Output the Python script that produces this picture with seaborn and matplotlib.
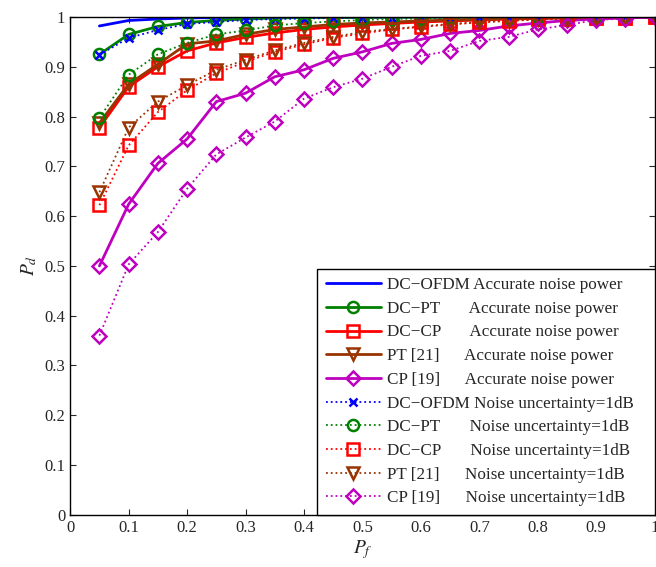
import numpy as np
import pandas as pd
import matplotlib
matplotlib.use("Agg")
import matplotlib.pyplot as plt
import seaborn as sns

pf = [0.05, 0.10, 0.15, 0.20, 0.25, 0.30, 0.35, 0.40, 0.45, 0.50,
      0.55, 0.60, 0.65, 0.70, 0.75, 0.80, 0.85, 0.90, 0.95, 1.00]

dcofdm_acc = [0.982, 0.993, 0.996, 0.998, 0.999, 0.999, 1.0, 1.0, 1.0, 1.0,
              1.0, 1.0, 1.0, 1.0, 1.0, 1.0, 1.0, 1.0, 1.0, 1.0]
dcpt_acc = [0.925, 0.965, 0.981, 0.989, 0.993, 0.996, 0.998, 0.999, 0.999, 0.999,
            1.0, 1.0, 1.0, 1.0, 1.0, 1.0, 1.0, 1.0, 1.0, 1.0]
dccp_acc = [0.778, 0.860, 0.900, 0.932, 0.948, 0.959, 0.968, 0.975, 0.980, 0.984,
            0.987, 0.990, 0.992, 0.994, 0.996, 0.997, 0.998, 0.999, 0.999, 1.0]
pt_acc = [0.787, 0.865, 0.905, 0.946, 0.952, 0.965, 0.975, 0.980, 0.985, 0.988,
          0.990, 0.992, 0.994, 0.995, 0.997, 0.998, 0.999, 0.999, 1.0, 1.0]
cp_acc = [0.500, 0.624, 0.706, 0.755, 0.830, 0.847, 0.880, 0.894, 0.917, 0.930,
          0.947, 0.955, 0.967, 0.973, 0.982, 0.988, 0.993, 0.996, 0.998, 1.0]

dcofdm_nu = [0.924, 0.958, 0.974, 0.986, 0.990, 0.994, 0.996, 0.997, 0.998, 0.999,
             0.999, 1.0, 1.0, 1.0, 1.0, 1.0, 1.0, 1.0, 1.0, 1.0]
dcpt_nu = [0.797, 0.884, 0.925, 0.948, 0.965, 0.973, 0.983, 0.988, 0.991, 0.994,
           0.996, 0.997, 0.998, 0.999, 0.999, 1.0, 1.0, 1.0, 1.0, 1.0]
dccp_nu = [0.622, 0.742, 0.809, 0.853, 0.887, 0.910, 0.930, 0.945, 0.958, 0.967,
           0.975, 0.980, 0.985, 0.989, 0.992, 0.995, 0.997, 0.998, 0.999, 1.0]
pt_nu = [0.648, 0.778, 0.830, 0.863, 0.894, 0.914, 0.933, 0.948, 0.960, 0.970,
         0.976, 0.981, 0.986, 0.990, 0.993, 0.995, 0.997, 0.998, 0.999, 1.0]
cp_nu = [0.360, 0.503, 0.568, 0.655, 0.724, 0.758, 0.790, 0.836, 0.859, 0.876,
         0.900, 0.922, 0.932, 0.952, 0.960, 0.975, 0.984, 0.994, 0.997, 1.0]

labels = ["DC\u2212OFDM Accurate noise power",
          "DC\u2212PT       Accurate noise power",
          "DC\u2212CP       Accurate noise power",
          "PT [21]      Accurate noise power",
          "CP [19]      Accurate noise power",
          "DC\u2212OFDM Noise uncertainty=1dB",
          "DC\u2212PT       Noise uncertainty=1dB",
          "DC\u2212CP       Noise uncertainty=1dB",
          "PT [21]      Noise uncertainty=1dB",
          "CP [19]      Noise uncertainty=1dB"]

sns.set_style("ticks")
plt.rcParams['font.family'] = ['Liberation Serif', 'DejaVu Serif']
plt.rcParams['mathtext.fontset'] = 'stix'

blue = (0, 0, 1)
green = (0, 0.5, 0)
red = (1, 0, 0)
brown = (0.6, 0.2, 0.0)
mag = (0.75, 0, 0.75)

series = [
    (dcofdm_acc, blue, '-', None),
    (dcpt_acc, green, '-', 'o'),
    (dccp_acc, red, '-', 's'),
    (pt_acc, brown, '-', 'v'),
    (cp_acc, mag, '-', 'D'),
    (dcofdm_nu, blue, ':', 'x'),
    (dcpt_nu, green, ':', 'o'),
    (dccp_nu, red, ':', 's'),
    (pt_nu, brown, ':', 'v'),
    (cp_nu, mag, ':', 'D'),
]

fig = plt.figure(figsize=(6.56, 5.67), dpi=100)
ax = fig.add_axes([0.107, 0.092, 0.891, 0.878])

for (vals, col, ls, mk), lab in zip(series, labels):
    df = pd.DataFrame({"Pf": pf, "Pd": vals})
    lw = 2.0 if ls == '-' else 1.3
    ms = 8 if mk in ('o', 's', 'v') else (7 if mk == 'D' else 6)
    kw = dict(marker=mk, markersize=ms, markerfacecolor='none',
              markeredgecolor=col, markeredgewidth=1.8) if mk else {}
    sns.lineplot(data=df, x="Pf", y="Pd", ax=ax, color=col, linestyle=ls,
                 linewidth=lw, label=lab + "   ", **kw)

ax.set_xlim(0, 1)
ax.set_ylim(0, 1)
ax.set_xticks(np.arange(0, 1.01, 0.1))
ax.set_yticks(np.arange(0, 1.01, 0.1))
ax.set_xticklabels(["0", "0.1", "0.2", "0.3", "0.4", "0.5", "0.6", "0.7", "0.8", "0.9", "1"])
ax.set_yticklabels(["0", "0.1", "0.2", "0.3", "0.4", "0.5", "0.6", "0.7", "0.8", "0.9", "1"])
ax.tick_params(direction='in', top=True, right=True, labelsize=12, length=4, width=0.8)
for s in ax.spines.values():
    s.set_linewidth(1.0)
    s.set_color('black')
ax.set_xlabel("$P_f$", fontsize=14, labelpad=2)
ax.set_ylabel("$P_d$", fontsize=14, labelpad=4)

leg = ax.legend(loc='lower right', bbox_to_anchor=(1.0, 0.0), borderaxespad=0,
                fontsize=12.3, frameon=True, fancybox=False, framealpha=1,
                edgecolor='black', handlelength=3.2, labelspacing=0.45,
                handletextpad=0.35, borderpad=0.5)
leg.get_frame().set_linewidth(1.0)

fig.savefig("out.png", dpi=100)
